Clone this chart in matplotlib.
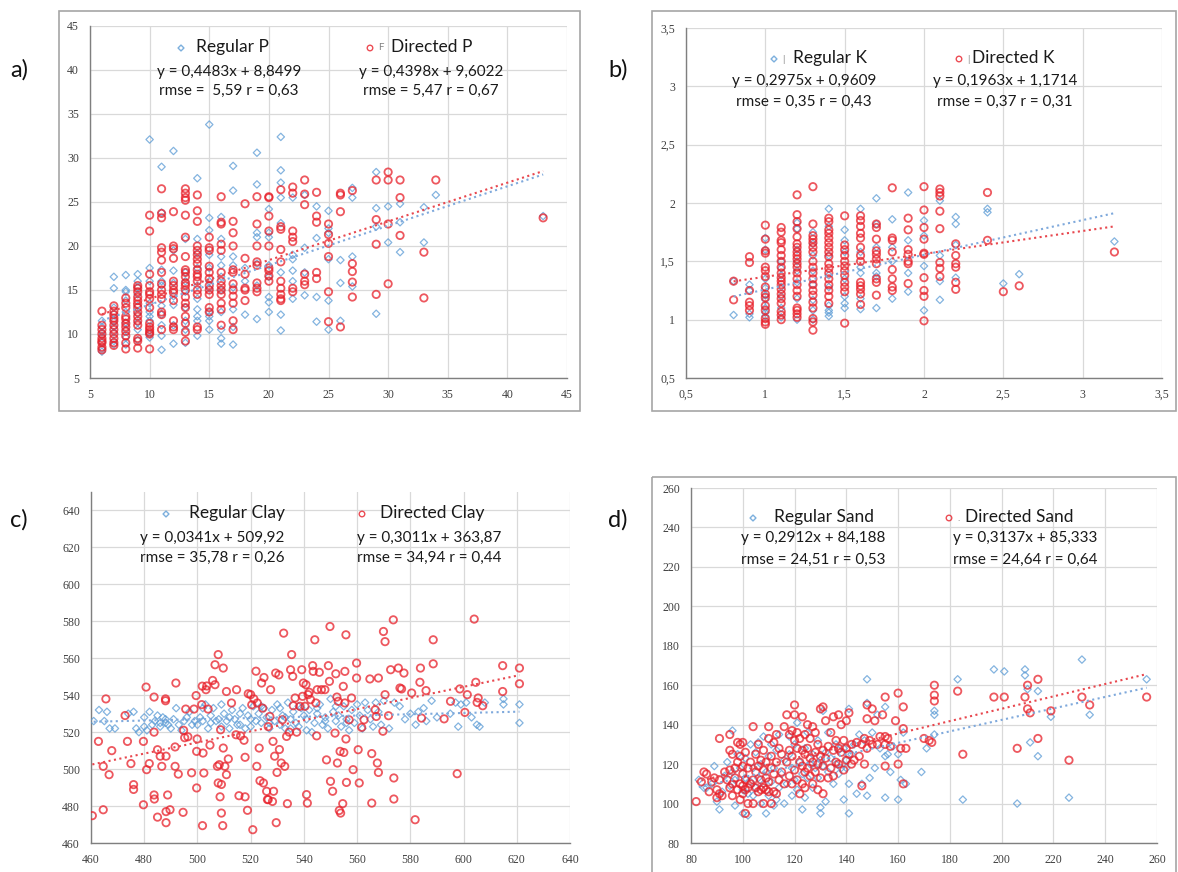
import matplotlib
matplotlib.use('Agg')
import matplotlib.pyplot as plt
from matplotlib.ticker import MultipleLocator, FuncFormatter
from matplotlib.patches import Rectangle

W, H = 1178, 872

# ---------------- a) P : column x -> list of y ----------------
p_regular = {
    6: [11.5, 10.8, 10.2, 9.8, 9.0, 8.3, 8.0],
    7: [16.5, 15.2, 13.0, 12.3, 11.4, 10.8, 10.2, 9.2, 8.8],
    8: [16.7, 15.0, 14.8, 13.8, 12.5, 11.3, 10.5, 9.6, 8.8],
    9: [16.8, 16.0, 15.3, 14.5, 13.2, 12.3, 11.3, 10.5, 9.3],
    10: [32.1, 17.5, 16.0, 13.5, 12.5, 12.0, 11.5, 10.0, 9.6],
    11: [29.0, 23.8, 17.3, 16.0, 15.5, 13.2, 12.2, 11.0, 9.8, 8.2],
    12: [30.8, 19.5, 17.2, 15.8, 14.3, 13.3, 11.0, 8.9],
    13: [20.8, 17.0, 16.0, 14.8, 13.0, 11.5, 10.5, 9.0],
    14: [27.7, 20.8, 19.2, 17.5, 15.5, 14.0, 12.8, 12.0, 11.5, 9.8],
    15: [33.8, 23.2, 21.8, 19.0, 17.5, 16.0, 15.2, 12.5, 12.0, 11.5, 10.5],
    16: [23.3, 20.8, 18.8, 17.8, 16.5, 15.0, 12.5, 10.5, 9.5, 8.9],
    17: [29.1, 26.3, 18.8, 17.8, 15.3, 12.8, 10.8, 8.8],
    18: [17.5, 16.0, 12.2],
    19: [30.6, 27.0, 21.5, 21.0, 18.0, 15.5, 11.7],
    20: [24.2, 21.5, 21.0, 17.8, 16.5, 14.2, 13.6, 12.5],
    21: [32.4, 28.6, 27.2, 25.5, 22.6, 17.0, 12.2, 10.4],
    22: [25.5, 19.0, 18.5, 17.2, 16.0, 14.0],
    23: [25.8, 19.8, 17.0, 14.4],
    24: [24.5, 20.9, 14.2, 11.4],
    25: [24.0, 22.0, 21.5, 18.5, 13.8, 10.5],
    26: [18.4, 15.8, 11.5],
    27: [26.6, 25.5, 18.8, 15.4],
    29: [28.4, 24.3, 22.2, 12.3],
    30: [24.5, 20.4],
    31: [24.8, 22.7, 19.3],
    33: [24.4, 20.4],
    34: [25.8],
    43: [23.4],
}
p_directed = {
    6: [12.6, 11.0, 10.5, 10.0, 9.5, 9.2, 9.0, 8.5, 8.2],
    7: [13.2, 12.6, 12.2, 11.8, 11.5, 11.0, 10.5, 10.0, 9.5, 9.0, 8.7],
    8: [14.1, 13.5, 13.0, 12.0, 11.7, 11.2, 10.8, 10.3, 9.8, 9.0, 8.3],
    9: [15.5, 15.2, 14.8, 14.2, 13.8, 13.4, 13.0, 12.5, 12.0, 11.5, 11.0, 9.5, 9.2, 8.4],
    10: [23.5, 21.7, 16.8, 15.5, 14.8, 14.5, 14.0, 13.0, 11.2, 10.8, 10.5, 10.2, 10.0, 8.3],
    11: [26.5, 23.7, 23.2, 19.8, 19.3, 18.4, 17.0, 15.7, 15.0, 14.5, 14.0, 12.5, 12.2, 10.5],
    12: [23.9, 20.0, 19.7, 18.6, 16.0, 15.5, 15.0, 14.7, 13.8, 11.5, 10.8, 10.5],
    13: [26.5, 26.0, 25.5, 25.2, 23.5, 21.0, 18.8, 17.3, 17.0, 16.5, 15.8, 15.5, 15.0,
         14.2, 13.5, 13.0, 12.0, 11.2, 10.2, 9.2],
    14: [25.8, 24.0, 22.8, 20.0, 19.5, 19.0, 18.5, 18.0, 17.3, 16.8, 16.5, 16.0, 15.0,
         14.5, 10.8, 10.5],
    15: [21.0, 19.8, 19.5, 17.7, 17.0, 16.3, 15.5, 15.0, 14.5, 13.0, 12.5],
    16: [25.6, 22.7, 22.5, 20.2, 19.5, 17.0, 16.0, 15.5, 15.0, 14.5, 13.5, 12.8, 11.0],
    17: [22.8, 21.5, 20.0, 17.3, 17.0, 15.7, 15.0, 14.3, 13.5, 11.5, 10.5],
    18: [24.8, 18.6, 16.8, 15.2, 15.0, 13.8],
    19: [25.6, 22.5, 20.0, 18.2, 17.8, 15.8, 15.2, 14.8],
    20: [25.6, 25.5, 23.4, 21.7, 20.0, 17.5, 17.2, 16.6, 16.0],
    21: [26.4, 22.2, 21.9, 19.6, 18.2, 16.0, 15.2, 14.5, 14.0, 13.8],
    22: [26.7, 26.0, 21.7, 21.0, 20.5, 15.2, 14.8],
    23: [27.5, 25.9, 24.7, 16.8, 16.0, 15.6],
    24: [26.1, 23.4, 22.7, 17.0, 16.3],
    25: [22.5, 21.3, 20.3, 18.8, 14.8, 11.4],
    26: [26.0, 25.8, 23.9, 10.8],
    27: [26.3, 18.0, 17.1, 15.9, 14.2],
    29: [27.5, 23.0, 20.2, 14.5],
    30: [28.4, 27.5, 22.5, 15.7],
    31: [27.5, 25.5, 21.2],
    33: [19.3, 14.1],
    34: [27.5],
    43: [23.2],
}

# ---------------- b) K : column x -> list of y ----------------
k_regular = {
    0.8: [1.33, 1.04],
    0.9: [1.30, 1.25, 1.05, 1.02],
    1.0: [1.70, 1.60, 1.35, 1.27, 1.21, 1.17, 1.10, 1.06, 1.03],
    1.1: [1.50, 1.44, 1.38, 1.28, 1.20, 1.10, 1.02],
    1.2: [1.83, 1.78, 1.60, 1.50, 1.42, 1.32, 1.18, 1.00],
    1.3: [1.75, 1.65, 1.55, 1.42, 1.30, 1.17, 1.08, 1.00],
    1.4: [1.95, 1.80, 1.55, 1.38, 1.28, 1.12, 1.08, 1.06, 1.03],
    1.5: [1.77, 1.68, 1.58, 1.35, 1.20, 1.14, 1.10],
    1.6: [1.95, 1.58, 1.45, 1.40, 1.18, 1.09],
    1.7: [2.04, 1.82, 1.62, 1.40, 1.37, 1.10],
    1.8: [1.86, 1.62, 1.50, 1.18],
    1.9: [2.09, 1.68, 1.40, 1.24],
    2.0: [1.85, 1.72, 1.46, 1.08],
    2.1: [2.02, 1.55, 1.33, 1.17],
    2.2: [1.88, 1.82, 1.64, 1.36],
    2.4: [1.95, 1.92],
    2.5: [1.31],
    2.6: [1.39],
    3.2: [1.67],
}
k_directed = {
    0.8: [1.33, 1.17],
    0.9: [1.54, 1.49, 1.25, 1.15, 1.12, 1.08],
    1.0: [1.81, 1.69, 1.59, 1.57, 1.45, 1.42, 1.37, 1.28, 1.22, 1.19, 1.12, 1.08, 1.01, 0.98, 0.96],
    1.1: [1.79, 1.75, 1.68, 1.66, 1.60, 1.55, 1.50, 1.45, 1.40, 1.36, 1.33, 1.30, 1.26, 1.22,
          1.18, 1.14, 1.07, 1.04, 1.00],
    1.2: [2.07, 1.90, 1.84, 1.78, 1.71, 1.65, 1.62, 1.58, 1.55, 1.52, 1.48, 1.45, 1.40, 1.35,
          1.30, 1.25, 1.20, 1.10, 1.08, 1.05, 1.02],
    1.3: [2.14, 1.82, 1.72, 1.69, 1.66, 1.62, 1.58, 1.50, 1.45, 1.40, 1.35, 1.30, 1.25, 1.21,
          1.15, 1.10, 1.01, 0.98, 0.91],
    1.4: [1.87, 1.84, 1.77, 1.74, 1.70, 1.66, 1.62, 1.58, 1.54, 1.48, 1.44, 1.40, 1.35, 1.30,
          1.25, 1.20, 1.14],
    1.5: [1.89, 1.64, 1.60, 1.55, 1.50, 1.46, 1.42, 1.38, 1.32, 1.28, 1.24, 0.97],
    1.6: [1.89, 1.85, 1.80, 1.74, 1.70, 1.62, 1.55, 1.50, 1.32, 1.29, 1.26, 1.22, 1.13],
    1.7: [1.82, 1.79, 1.69, 1.59, 1.56, 1.52, 1.48, 1.35, 1.32, 1.21],
    1.8: [2.13, 1.70, 1.68, 1.58, 1.43, 1.35, 1.28, 1.25],
    1.9: [1.87, 1.77, 1.60, 1.56, 1.50, 1.48, 1.31],
    2.0: [2.14, 1.94, 1.79, 1.69, 1.57, 1.56, 1.36, 1.25, 1.20, 0.99],
    2.1: [2.12, 2.09, 2.06, 1.93, 1.78, 1.49, 1.44, 1.37],
    2.2: [1.65, 1.55, 1.48, 1.45, 1.32, 1.26],
    2.4: [2.09, 1.68],
    2.5: [1.24],
    2.6: [1.29],
    3.2: [1.58],
}

# ---------------- c) Clay : (x, y) ----------------
clay_regular = [
    (461, 526), (463, 532), (465, 526), (466, 531), (467, 522), (469, 522), (474, 530), (476, 531),
    (477, 522), (478, 520), (480, 528), (480, 523), (481, 521), (482, 531), (483, 524), (484, 526),
    (485, 529), (486, 523), (486, 525), (487, 528), (488, 525), (488, 527), (489, 524), (490, 522),
    (491, 527), (492, 533), (493, 524), (494, 521), (495, 526), (496, 528), (497, 531), (498, 524),
    (499, 526), (500, 524), (501, 528), (502, 533), (502, 526), (503, 535), (504, 522), (505, 529),
    (505, 525), (506, 533), (507, 526), (508, 527), (509, 535), (509, 523), (510, 530), (511, 526),
    (512, 522), (512, 528), (513, 532), (514, 527), (515, 524), (516, 530), (516, 524), (517, 533),
    (518, 522), (519, 529), (520, 523), (520, 527), (521, 534), (522, 526), (523, 530), (524, 525),
    (524, 534), (525, 533), (526, 528), (527, 522), (527, 525), (528, 532), (529, 526), (530, 535),
    (531, 524), (531, 533), (532, 529), (533, 522), (533, 528), (534, 536), (535, 527), (535, 522),
    (536, 531), (537, 525), (538, 523), (538, 534), (539, 533), (540, 529), (541, 527), (541, 521),
    (542, 532), (543, 520), (544, 525), (545, 530), (545, 533), (546, 535), (547, 524), (548, 528),
    (548, 526), (549, 522), (550, 538), (551, 531), (552, 526), (552, 534), (553, 529), (554, 523),
    (555, 534), (556, 527), (556, 525), (557, 521), (558, 532), (559, 525), (560, 535), (561, 529),
    (562, 522), (563, 536), (564, 532), (565, 527), (566, 523), (567, 536), (568, 531), (569, 524),
    (570, 537), (572, 522), (574, 536), (576, 534), (578, 527), (580, 530), (582, 524), (583, 531),
    (585, 533), (586, 526), (588, 537), (590, 528), (595, 530), (597, 536), (598, 523), (599, 535),
    (601, 536), (603, 528), (605, 524), (606, 523), (608, 536), (615, 538), (615, 535), (621, 535),
    (621, 525),
]
clay_directed = [
    (460.5, 474.8), (462.8, 515), (464.6, 478), (464.6, 501.5), (466.8, 497), (465.6, 538),
    (467.8, 510), (472.8, 529), (473.7, 515), (475, 503), (476, 491.6), (476, 489), (479.7, 515),
    (479.7, 480.7), (480.7, 544.4), (480.9, 499.7), (481.9, 503), (483.7, 539), (483.7, 520),
    (483.7, 486), (483.8, 483.8), (485, 510.5), (485, 474), (486, 507), (486.6, 501.5), (488, 538),
    (488, 537), (488.2, 507), (488.2, 477), (488.2, 471), (488.8, 486), (489.7, 478), (491.6, 512),
    (491.6, 501.5), (491.9, 546.6), (492.8, 497.3), (494.6, 476.6), (494.8, 521), (495.2, 517),
    (495.6, 532.5), (496.4, 517.5), (497.8, 498), (498.7, 532.5), (499.5, 539.8), (499.7, 509.6),
    (499.7, 489.8), (499.9, 516.3), (501.6, 534.9), (501.8, 544.9), (501.9, 469.4), (502.1, 508.7),
    (502.4, 497.9), (503.2, 543), (503.5, 545), (504, 532.5), (504.7, 513), (505.7, 548),
    (506.6, 545.7), (506.6, 556.5), (507.5, 501.5), (507.8, 562), (507.8, 492.5), (508.2, 502.4),
    (508.5, 485), (508.7, 521.3), (509, 491.7), (509, 476.2), (509.5, 469.4), (509.7, 554.7),
    (509.7, 511.4), (510.3, 501.5), (510.9, 497), (510.9, 542), (511.6, 505.5), (512.8, 535.8),
    (514.5, 518.6), (514.7, 543), (515.6, 485.6), (516.2, 518), (517.5, 515.6), (517.9, 485),
    (517.9, 506.4), (518.8, 477.7), (519.1, 540.8), (520, 540.3), (520.4, 534.8), (520.8, 467.2),
    (521.2, 538), (522, 553), (522.3, 501.5), (522.5, 535.8), (523.2, 511.4), (523.5, 493.7),
    (524.1, 546.6), (524.5, 533), (524.8, 492.5), (525, 549.6), (526, 488), (526.3, 483.5),
    (526.6, 523), (526.6, 483.5), (527.2, 528.5), (527.5, 543), (528.2, 482.5), (528.4, 515),
    (528.6, 488), (529, 507), (529.4, 552), (529.6, 471), (529.9, 498.2), (530.6, 551),
    (530.8, 510.6), (531.5, 503.3), (531.9, 526.7), (532.4, 573.6), (532.8, 501.5), (533.5, 517.7),
    (533.8, 481.3), (534.5, 520), (535, 553.8), (535.4, 562), (535.8, 550.2), (536, 534.3),
    (536.7, 538.5), (537.3, 520), (538.5, 534), (539.2, 553.8), (539.5, 539.4), (539.8, 546.6),
    (540.4, 534), (540.8, 545.7), (541, 486.2), (541.3, 481.6), (541.6, 540.3), (542, 541.6),
    (542.5, 537.6), (543.3, 556), (543.5, 552.9), (544.1, 570), (544.5, 535.8), (544.8, 518),
    (545, 543), (545.8, 552.4), (546.6, 543), (547.9, 543), (548.5, 505), (549.2, 556),
    (549.6, 547.5), (549.8, 577.2), (550, 493.4), (550.8, 488), (551.7, 519.5), (552, 551.6),
    (552.4, 539), (552.6, 503.3), (552.9, 536.7), (553.3, 477.6), (553.6, 509.6), (553.8, 476.2),
    (554.6, 481.3), (554.8, 544.8), (555, 509), (555.4, 535.8), (555.4, 552.9), (555.8, 572.7),
    (555.8, 516.3), (556, 492.8), (557, 526.7), (557.9, 538.5), (558.5, 499.7), (559.8, 557.4),
    (559.8, 549.3), (560.4, 510.5), (560.8, 492.5), (561.7, 522.6), (562.6, 526.7), (564.8, 548.8),
    (565.5, 508.4), (565.5, 481.6), (566.8, 532.1), (567.2, 528.5), (567.6, 503.3), (568, 498.2),
    (568, 549.3), (569.7, 520.5), (569.9, 574.5), (570.5, 569), (570.5, 540.3), (571.8, 528.9),
    (572.6, 553.8), (573.6, 580.8), (573.8, 495.2), (573.8, 483.8), (575.5, 554.7), (576.1, 543.9),
    (576.7, 543.4), (577.6, 552), (580.5, 541.2), (581.8, 472.6), (583.6, 547), (583.8, 554.7),
    (584.2, 527.6), (585.9, 542.5), (588.6, 570), (588.6, 557), (592.7, 527.2), (595.1, 536.7),
    (597.6, 497.5), (598.6, 543.4), (600.5, 530.7), (601.4, 540.3), (604, 581.2), (604.6, 547),
    (605.1, 536.1), (605.5, 538.5), (607.2, 534.3), (614.7, 556), (614.7, 542), (621, 554.7),
    (621, 546.2),
]

# ---------------- d) Sand : (x, y) ----------------
sand_regular = [
    (83, 112), (85, 108), (86, 108), (88, 110), (89, 119), (90, 101), (91, 97), (92, 106), (93, 114),
    (94, 121), (95, 109), (96, 116), (96, 137), (97, 99), (97, 112), (98, 125), (99, 118), (100, 95),
    (100, 107), (101, 113), (101, 123), (102, 94), (102, 105), (103, 111), (103, 130), (104, 104),
    (104, 118), (105, 108), (105, 126), (106, 113), (106, 131), (107, 100), (107, 120), (108, 110),
    (108, 134), (109, 95), (109, 116), (110, 104), (110, 124), (111, 111), (111, 130), (112, 99),
    (112, 118), (113, 102), (113, 127), (114, 108), (114, 135), (115, 115), (116, 100), (116, 122),
    (117, 110), (118, 125), (118, 134), (119, 104), (119, 118), (120, 112), (120, 130), (121, 141),
    (121, 107), (122, 121), (123, 97), (123, 115), (124, 103), (124, 128), (125, 113), (125, 136),
    (126, 120), (127, 108), (127, 125), (128, 118), (129, 113), (129, 132), (130, 95), (130, 98),
    (130, 122), (131, 119), (131, 147), (132, 101), (132, 126), (133, 116), (133, 136), (134, 123),
    (135, 110), (136, 120), (136, 130), (137, 115), (137, 127), (138, 118), (139, 102), (139, 128),
    (140, 118), (140, 122), (141, 95), (141, 110), (141, 148), (142, 125), (143, 130), (144, 105),
    (145, 135), (146, 110), (147, 132), (148, 104), (148, 163), (148, 151), (149, 113), (150, 136),
    (151, 118), (152, 145), (153, 128), (155, 103), (155, 124), (155, 149), (156, 125), (157, 116),
    (158, 129), (160, 102), (160, 125), (161, 112), (162, 136), (163, 110), (169, 116), (171, 128),
    (174, 135), (174, 145), (174, 147), (183, 163), (185, 102), (197, 168), (201, 167), (206, 100),
    (209, 165), (209, 168), (210, 158), (211, 131), (214, 124), (214, 157), (219, 144), (226, 103),
    (231, 173), (234, 145), (256, 163),
]
sand_directed = [
    (82, 101), (84, 111), (85, 116), (86, 115), (87, 106), (88, 111), (89, 113), (90, 103), (90, 107),
    (91, 105), (91, 112), (91, 133), (92, 104), (93, 116), (94, 112), (95, 108), (95, 117), (95, 127),
    (95, 135), (96, 104), (96, 110), (96, 125), (97, 113), (97, 118), (98, 107), (98, 121), (98, 131),
    (99, 102), (99, 110), (99, 124), (99, 130), (100, 105), (100, 109), (100, 115), (100, 119),
    (100, 131), (101, 95), (101, 107), (101, 112), (101, 126), (102, 100), (102, 108), (102, 118),
    (103, 110), (103, 121), (104, 100), (104, 112), (104, 139), (105, 108), (105, 116), (105, 125),
    (106, 106), (106, 119), (106, 130), (107, 107), (107, 112), (107, 122), (108, 100), (108, 108),
    (108, 117), (108, 127), (109, 107), (109, 113), (109, 121), (110, 106), (110, 111), (110, 133),
    (110, 139), (111, 100), (111, 118), (111, 124), (112, 106), (112, 115), (112, 131), (113, 105),
    (113, 121), (113, 135), (114, 112), (114, 128), (115, 116), (115, 125), (116, 110), (116, 139),
    (117, 121), (117, 145), (118, 114), (118, 127), (118, 135), (119, 110), (119, 124), (119, 137),
    (120, 117), (120, 132), (120, 145), (120, 150), (121, 112), (121, 128), (121, 136), (122, 105),
    (122, 121), (122, 133), (123, 110), (123, 119), (123, 127), (123, 144), (124, 108), (124, 116),
    (124, 125), (124, 135), (125, 118), (125, 128), (125, 140), (126, 114), (126, 123), (126, 133),
    (127, 110), (127, 121), (127, 139), (128, 116), (128, 126), (128, 136), (129, 107), (129, 120),
    (129, 130), (130, 113), (130, 124), (130, 148), (131, 105), (131, 119), (131, 127), (131, 149),
    (132, 123), (132, 142), (133, 113), (133, 129), (134, 118), (134, 136), (135, 114), (135, 127),
    (135, 144), (136, 121), (136, 132), (137, 120), (137, 128), (137, 145), (138, 126), (138, 140),
    (139, 117), (139, 132), (140, 122), (140, 128), (140, 142), (141, 125), (141, 146), (142, 120),
    (142, 130), (143, 122), (144, 131), (145, 124), (146, 109), (146, 130), (147, 120), (147, 133),
    (148, 128), (148, 143), (148, 150), (149, 132), (150, 130), (150, 148), (151, 142), (152, 130),
    (153, 134), (154, 145), (155, 119), (155, 130), (155, 134), (155, 154), (156, 133), (157, 129),
    (159, 142), (160, 120), (160, 156), (161, 128), (162, 110), (162, 138), (162, 149), (163, 128),
    (170, 133), (172, 132), (173, 131), (174, 152), (174, 155), (174, 160), (183, 157), (185, 125),
    (197, 154), (201, 154), (206, 128), (209, 154), (210, 148), (210, 160), (211, 146), (214, 133),
    (214, 163), (219, 147), (226, 122), (231, 154), (234, 150), (256, 154),
]

# trend line coefficients (slope, intercept) as printed on the chart
trend_regular = [(0.4483, 8.8499), (0.2975, 0.9609), (0.0341, 509.92), (0.2912, 84.188)]
trend_directed = [(0.4398, 9.6022), (0.1963, 1.1714), (0.3011, 363.87), (0.3137, 85.333)]
stats_regular = ['rmse =  5,59 r = 0,63', 'rmse = 0,35 r = 0,43', 'rmse = 35,78 r = 0,26', 'rmse = 24,51 r = 0,53']
stats_directed = ['rmse = 5,47 r = 0,67', 'rmse = 0,37 r = 0,31', 'rmse = 34,94 r = 0,44', 'rmse = 24,64 r = 0,64']
names = ['P', 'K', 'Clay', 'Sand']
panel_labels = ['a)', 'b)', 'c)', 'd)']
# stray legend-key fragments visible next to the markers
stray_regular = ['', '|', '', '']
stray_directed = ['F', '|', '', '.']


def unpack_columns(d):
    xs, ys = [], []
    for x, vals in d.items():
        xs += [x] * len(vals)
        ys += vals
    return xs, ys


def unpack_pairs(pts):
    return [p[0] for p in pts], [p[1] for p in pts]


series = [
    (unpack_columns(p_regular), unpack_columns(p_directed)),
    (unpack_columns(k_regular), unpack_columns(k_directed)),
    (unpack_pairs(clay_regular), unpack_pairs(clay_directed)),
    (unpack_pairs(sand_regular), unpack_pairs(sand_directed)),
]

# axes boxes in pixels: left, top, right, bottom
boxes = [(90, 26, 567, 378), (686, 28, 1162, 378), (91, 492, 570, 843), (691, 488, 1157, 843)]
xlims = [(5, 45), (0.5, 3.5), (460, 640), (80, 260)]
ylims = [(5, 45), (0.5, 3.5), (460, 650), (80, 260)]
steps = [(5, 5), (0.5, 0.5), (20, 20), (20, 20)]

BLUE = '#5b9bd5'
RED = '#e8202a'
GRID = '#d9d9d9'
TICK = '#404040'
TXT = '#1a1a1a'

fig = plt.figure(figsize=(W / 100, H / 100), dpi=100)


def comma(v, pos):
    s = ('%g' % v)
    return s.replace('.', ',')


for i in range(4):
    l, t, r, b = boxes[i]
    ax = fig.add_axes([l / W, 1 - b / H, (r - l) / W, (b - t) / H])
    (rx, ry), (dx, dy) = series[i]
    ax.scatter(rx, ry, marker='D', s=14, facecolors='none', edgecolors=BLUE,
               linewidths=0.9, alpha=0.75, zorder=3)
    ax.scatter(dx, dy, marker='o', s=28, facecolors='none', edgecolors=RED,
               linewidths=1.3, alpha=0.75, zorder=3)
    # trend lines over the data range
    for (xs, col), (k, c0) in [((rx, '#7fa9dc'), trend_regular[i]), ((dx, '#e8474e'), trend_directed[i])]:
        x0, x1 = min(xs), max(xs)
        ax.plot([x0, x1], [k * x0 + c0, k * x1 + c0], ls=':', lw=1.5, color=col, zorder=4)
    ax.set_xlim(*xlims[i])
    ax.set_ylim(*ylims[i])
    ax.xaxis.set_major_locator(MultipleLocator(steps[i][0]))
    ax.yaxis.set_major_locator(MultipleLocator(steps[i][1]))
    if i == 2:
        ax.set_yticks(range(460, 641, 20))
    ax.xaxis.set_major_formatter(FuncFormatter(comma))
    ax.yaxis.set_major_formatter(FuncFormatter(comma))
    ax.grid(True, color=GRID, lw=0.9, zorder=0)
    ax.set_axisbelow(True)
    for side in ['top', 'right']:
        ax.spines[side].set_visible(False)
    for side in ['left', 'bottom']:
        ax.spines[side].set_color('#7f7f7f')
        ax.spines[side].set_linewidth(1.0)
    ax.tick_params(length=0, labelsize=8.5, labelcolor=TICK, pad=8)
    for lab in ax.get_xticklabels() + ax.get_yticklabels():
        lab.set_fontfamily('Liberation Serif')

# overlay in pixel coordinates for frames, labels and legends
ov = fig.add_axes([0, 0, 1, 1])
ov.set_xlim(0, W)
ov.set_ylim(H, 0)
ov.axis('off')
ov.patch.set_alpha(0)

for (x0, y0, x1, y1) in [(59, 11, 580, 411), (652, 11, 1176, 411), (652, 477, 1176, 880)]:
    ov.add_patch(Rectangle((x0, y0), x1 - x0, y1 - y0, fill=False, ec='#a6a6a6', lw=1.2))

label_pos = [(10, 70), (608, 70), (10, 520), (608, 520)]
for (x, y), s in zip(label_pos, panel_labels):
    ov.text(x, y, s, fontsize=17, family='Lato', va='center', ha='left', color='#111111')

# legend blocks: (marker x, name x, eq centre x, name y, eq y, rmse y) for regular / directed
leg_regular = [(181, 196, 229, 47, 72, 91), (774, 793, 804, 58, 81, 102),
               (166, 189, 212, 513, 538, 558), (753, 774, 813, 517, 538, 560)]
leg_directed = [(370, 391, 431, 47, 72, 91), (959, 972, 1005, 58, 81, 102),
                (362, 380, 429, 513, 538, 558), (949, 965, 1025, 517, 538, 560)]
FONT = 'Lato'
for i in range(4):
    for leg, kind, col, mk, (k, c0), st, stray in [
            (leg_regular[i], 'Regular', BLUE, 'D', trend_regular[i], stats_regular[i], stray_regular[i]),
            (leg_directed[i], 'Directed', RED, 'o', trend_directed[i], stats_directed[i], stray_directed[i])]:
        mx, nx, cx, ny, ey, sy = leg
        ov.scatter([mx], [ny + 1], marker=mk, s=16 if mk == 'o' else 9, facecolors='none',
                   edgecolors=col, linewidths=1.0, alpha=0.8)
        if stray:
            ov.text(mx + 8, ny + 1, stray, fontsize=7, family=FONT, va='center', ha='left',
                    color='#7f7f7f')
        ov.text(nx, ny, kind + ' ' + names[i], fontsize=12.5, family=FONT, va='center', ha='left',
                color=TXT)
        eq = 'y = %sx + %s' % (('%g' % k).replace('.', ','), ('%g' % c0).replace('.', ','))
        ov.text(cx, ey, eq, fontsize=11, family=FONT, va='center', ha='center', color=TXT)
        ov.text(cx, sy, st, fontsize=11, family=FONT, va='center', ha='center', color=TXT)

fig.savefig('out.png', dpi=100)
